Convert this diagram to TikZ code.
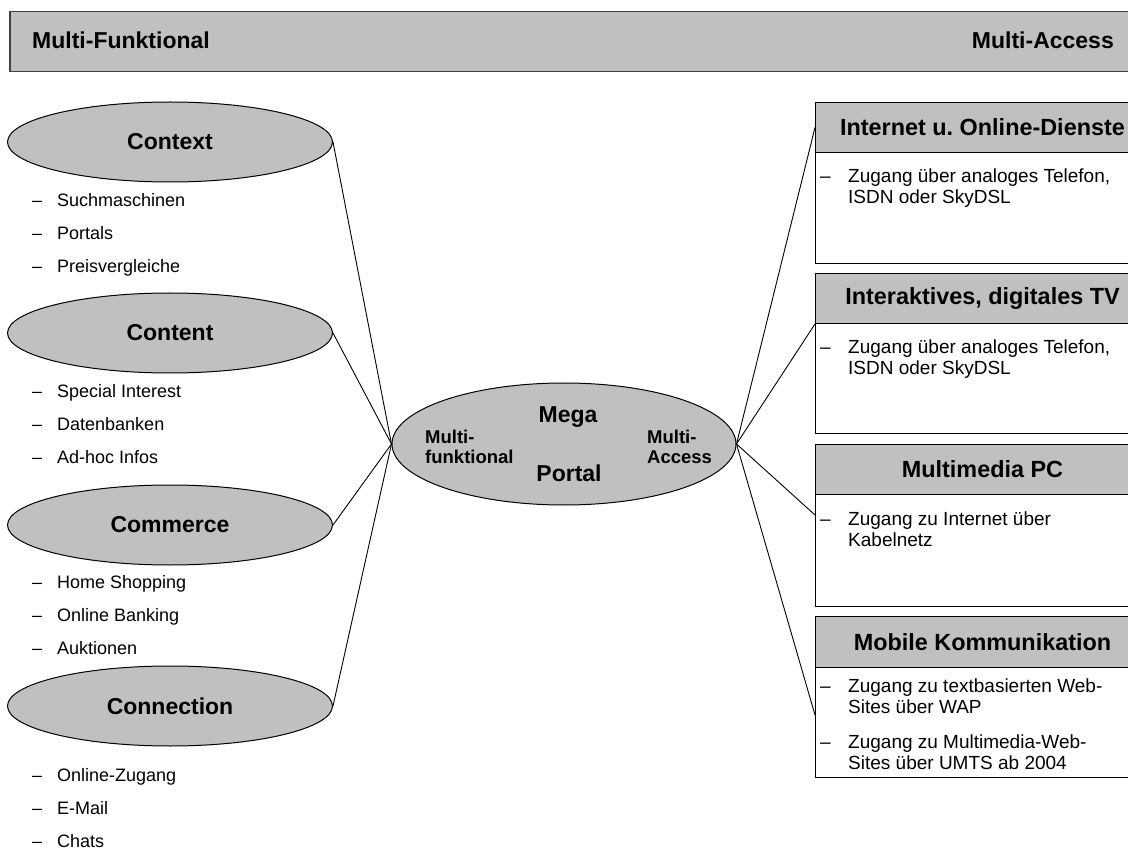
\documentclass[tikz,border=0pt]{standalone}
\usepackage{fontspec}
\setmainfont{Liberation Sans}
\usetikzlibrary{shapes.geometric}
\definecolor{silver}{HTML}{C0C0C0}
\definecolor{bannerline}{HTML}{404040}
\begin{document}
\begin{tikzpicture}[x=1pt,y=-1pt,
  oval/.style={ellipse, draw=black, line width=1pt, fill=silver, minimum width=325pt, minimum height=80pt, inner sep=0pt, font=\fontsize{23}{27}\selectfont\bfseries},
  bigtxt/.style={anchor=base, inner sep=0pt, font=\fontsize{23}{27}\selectfont\bfseries},
  midtxt/.style={anchor=base west, inner sep=0pt, font=\fontsize{18.5}{21}\selectfont\bfseries},
  dashmark/.style={anchor=base west, inner sep=0pt, font=\fontsize{18}{21}\selectfont},
  item/.style={anchor=base west, inner sep=0pt, font=\fontsize{18}{21}\selectfont},
  rdash/.style={anchor=base west, inner sep=0pt, font=\fontsize{19}{21}\selectfont},
  ritem/.style={anchor=base west, inner sep=0pt, font=\fontsize{19}{21}\selectfont},
  titlebox/.style={rectangle, draw=black, line width=1pt, fill=silver, anchor=north west, minimum width=334pt, minimum height=50pt, inner sep=0pt, font=\fontsize{23.4}{27}\selectfont\bfseries},
  bodybox/.style={rectangle, draw=black, line width=1pt, fill=white, anchor=north west, minimum width=334pt, inner sep=0pt},
  link/.style={draw=black, line width=0.9pt}
]
\useasboundingbox (0,0) rectangle (1128,850);

% banner
\node[rectangle, draw=bannerline, line width=1.5pt, fill=silver, anchor=north west, minimum width=1140pt, minimum height=60pt, inner sep=0pt] (banner) at (9,11) {};
\node[anchor=base west, inner sep=0pt, font=\fontsize{23}{27}\selectfont\bfseries] (bl) at (32,49) {Multi-Funktional};
\node[anchor=base east, inner sep=0pt, font=\fontsize{23}{27}\selectfont\bfseries] (br) at (1114,49) {Multi-Access};

% left ovals
\node[oval] (ctx) at (170,142) {Context};
\node[oval] (cnt) at (170,333) {Content};
\node[oval] (com) at (170,525) {Commerce};
\node[oval] (con) at (170,706) {Connection};

% left items
\node[dashmark] (d11) at (32,207) {–}; \node[item] (i11) at (57,207) {Suchmaschinen};
\node[dashmark] (d12) at (32,240) {–}; \node[item] (i12) at (57,240) {Portals};
\node[dashmark] (d13) at (32,273) {–}; \node[item] (i13) at (57,273) {Preisvergleiche};

\node[dashmark] (d21) at (32,398) {–}; \node[item] (i21) at (57,398) {Special Interest};
\node[dashmark] (d22) at (32,431) {–}; \node[item] (i22) at (57,431) {Datenbanken};
\node[dashmark] (d23) at (32,464) {–}; \node[item] (i23) at (57,464) {Ad-hoc Infos};

\node[dashmark] (d31) at (32,588) {–}; \node[item] (i31) at (57,588) {Home Shopping};
\node[dashmark] (d32) at (32,621) {–}; \node[item] (i32) at (57,621) {Online Banking};
\node[dashmark] (d33) at (32,654) {–}; \node[item] (i33) at (57,654) {Auktionen};

\node[dashmark] (d41) at (32,781) {–}; \node[item] (i41) at (57,781) {Online-Zugang};
\node[dashmark] (d42) at (32,814) {–}; \node[item] (i42) at (57,814) {E-Mail};
\node[dashmark] (d43) at (32,847) {–}; \node[item] (i43) at (57,847) {Chats};

% central oval
\node[ellipse, draw=black, line width=1pt, fill=silver, minimum width=344pt, minimum height=122pt, inner sep=0pt] (mega) at (564,444) {};
\node[bigtxt] (tmega) at (568,422) {Mega};
\node[bigtxt] (tportal) at (569,482) {Portal};
\node[midtxt] (ml1) at (425,443) {Multi-};
\node[midtxt] (ml2) at (425,464) {funktional};
\node[midtxt] (mr1) at (647,443) {Multi-};
\node[midtxt] (mr2) at (647,464) {Access};

% right boxes
\node[titlebox] (t1) at (815,102) {Internet u.\ Online-Dienste};
\node[bodybox, minimum height=111pt] (b1) at (815,152) {};
\node[titlebox] (t2) at (815,273) {Interaktives, digitales TV};
\node[bodybox, minimum height=110pt] (b2) at (815,323) {};
\node[titlebox] (t3) at (815,444) {Multimedia PC};
\node[bodybox, minimum height=112pt] (b3) at (815,494) {};
\node[titlebox, minimum height=51pt] (t4) at (815,616) {Mobile Kommunikation};
\node[bodybox, minimum height=110pt] (b4) at (815,667) {};

% right items
\node[rdash] (r11) at (820,183) {–}; \node[ritem] (s11) at (848,183) {Zugang über analoges Telefon,};
\node[ritem] (s12) at (848,204) {ISDN oder SkyDSL};
\node[rdash] (r21) at (820,354) {–}; \node[ritem] (s21) at (848,354) {Zugang über analoges Telefon,};
\node[ritem] (s22) at (848,375) {ISDN oder SkyDSL};
\node[rdash] (r31) at (820,525) {–}; \node[ritem] (s31) at (848,525) {Zugang zu Internet über};
\node[ritem] (s32) at (848,546) {Kabelnetz};
\node[rdash] (r41) at (820,692) {–}; \node[ritem] (s41) at (848,692) {Zugang zu textbasierten Web-};
\node[ritem] (s42) at (848,713) {Sites über WAP};
\node[rdash] (r43) at (820,748) {–}; \node[ritem] (s43) at (848,748) {Zugang zu Multimedia-Web-};
\node[ritem] (s44) at (848,769) {Sites über UMTS ab 2004};

% connectors left
\draw[link] (ctx.east) -- (mega.west);
\draw[link] (cnt.east) -- (mega.west);
\draw[link] (com.east) -- (mega.west);
\draw[link] (con.east) -- (mega.west);

% connectors right
\draw[link] (mega.east) -- (t1.west);
\draw[link] (mega.east) -- (t2.south west);
\draw[link] (mega.east) -- ([yshift=-21pt]b3.north west);
\draw[link] (mega.east) -- ([yshift=-48pt]b4.north west);
\end{tikzpicture}
\end{document}
